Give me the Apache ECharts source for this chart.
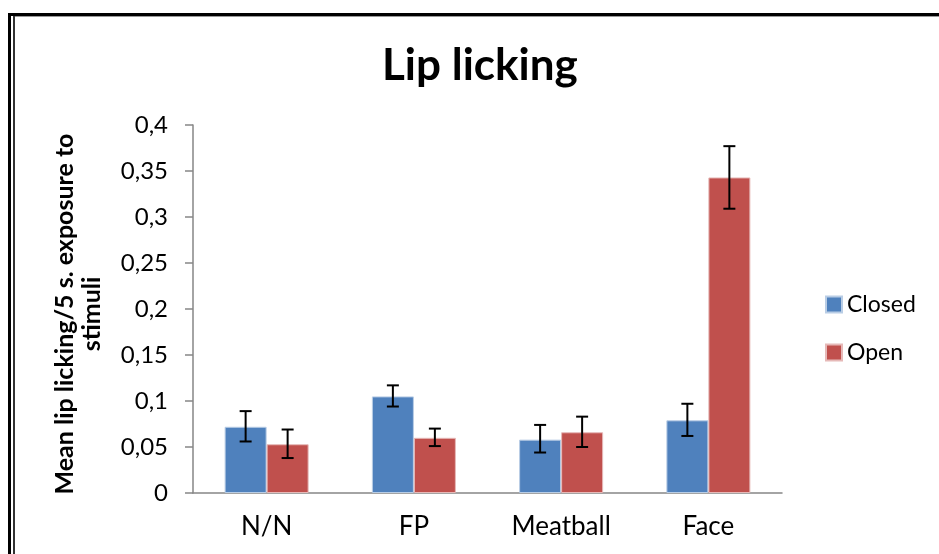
<!DOCTYPE html>
<html>
<head>
<meta charset="utf-8">
<script src="https://cdn.jsdelivr.net/npm/echarts@6/dist/echarts.min.js"></script>
<style>
html,body{margin:0;padding:0;background:#fff;}
#chart{width:939px;height:554px;}
</style>
</head>
<body>
<div id="chart"></div>
<script>
var categories = ['N/N', 'FP', 'Meatball', 'Face'];
var closedValues = [0.072, 0.105, 0.058, 0.079];
var openValues = [0.053, 0.060, 0.066, 0.343];
var closedErrLow = [0.056, 0.094, 0.044, 0.062];
var closedErrHigh = [0.089, 0.117, 0.074, 0.097];
var openErrLow = [0.038, 0.051, 0.050, 0.309];
var openErrHigh = [0.069, 0.070, 0.083, 0.377];
var yTicks = [0, 0.05, 0.1, 0.15, 0.2, 0.25, 0.3, 0.35, 0.4];

var FONT = 'Lato';
var BAR_W = 42;

function errData(lo, hi) {
  return categories.map(function (c, i) { return [i, lo[i], hi[i]]; });
}
function errRender(offset) {
  return function (params, api) {
    var x = api.value(0);
    var lo = api.coord([x, api.value(1)]);
    var hi = api.coord([x, api.value(2)]);
    var cx = lo[0] + offset;
    var cap = 6;
    var st = { stroke: '#000', lineWidth: 2 };
    return {
      type: 'group',
      children: [
        { type: 'line', shape: { x1: cx, y1: hi[1], x2: cx, y2: lo[1] }, style: st },
        { type: 'line', shape: { x1: cx - cap, y1: hi[1], x2: cx + cap, y2: hi[1] }, style: st },
        { type: 'line', shape: { x1: cx - cap, y1: lo[1], x2: cx + cap, y2: lo[1] }, style: st }
      ]
    };
  };
}

var chart = echarts.init(document.getElementById('chart'), null, { renderer: 'canvas' });
chart.setOption({
  animation: false,
  backgroundColor: '#fff',
  textStyle: { fontFamily: FONT },
  title: {
    text: 'Lip licking',
    left: 382,
    top: 44,
    padding: 0,
    textStyle: { fontFamily: FONT, fontWeight: 'bold', fontSize: 44, color: '#000' }
  },
  legend: {
    orient: 'vertical',
    left: 825,
    top: 293,
    padding: 0,
    itemWidth: 16,
    itemHeight: 16,
    itemGap: 25,
    icon: 'rect',
    textStyle: { fontFamily: FONT, fontSize: 23, color: '#000' },
    data: ['Closed', 'Open']
  },
  grid: { left: 193, right: 157, top: 125, bottom: 61 },
  xAxis: {
    type: 'category',
    data: categories,
    axisLine: { lineStyle: { color: '#868686', width: 1.5 } },
    axisTick: { show: false },
    axisLabel: { fontFamily: FONT, fontSize: 26, color: '#000', margin: 21 }
  },
  yAxis: {
    type: 'value',
    min: 0,
    max: 0.4,
    interval: 0.05,
    splitLine: { show: false },
    axisLine: { show: true, lineStyle: { color: '#868686', width: 1.5 } },
    axisTick: { show: true, length: 8, lineStyle: { color: '#868686', width: 1.5 } },
    axisLabel: {
      fontFamily: FONT, fontSize: 24, color: '#000', margin: 25,
      formatter: function (v) {
        var idx = yTicks.indexOf(Math.round(v * 100) / 100);
        var t = idx >= 0 ? yTicks[idx] : v;
        return String(t).replace('.', ',');
      }
    },
    name: 'Mean lip licking/5 s. exposure to\nstimuli',
    nameLocation: 'middle',
    nameRotate: 90,
    nameGap: 88,
    nameTextStyle: { fontFamily: FONT, fontWeight: 'bold', fontSize: 25, color: '#000', lineHeight: 27, padding: [0, 10, 0, 0] }
  },
  series: [
    {
      name: 'Closed', type: 'bar', data: closedValues, barWidth: BAR_W, barGap: '0%',
      itemStyle: { color: '#4F81BD', borderColor: '#B9CDE5', borderWidth: 1 }
    },
    {
      name: 'Open', type: 'bar', data: openValues, barWidth: BAR_W, barGap: '0%',
      itemStyle: { color: '#C0504D', borderColor: '#E6B9B8', borderWidth: 1 }
    },
    {
      type: 'custom', renderItem: errRender(-BAR_W / 2), data: errData(closedErrLow, closedErrHigh),
      encode: { x: 0, y: [1, 2] }, z: 10, silent: true
    },
    {
      type: 'custom', renderItem: errRender(BAR_W / 2), data: errData(openErrLow, openErrHigh),
      encode: { x: 0, y: [1, 2] }, z: 10, silent: true
    }
  ],
  graphic: [
    { type: 'rect', shape: { x: 8, y: 13, width: 3, height: 541 }, style: { fill: '#000' } },
    { type: 'rect', shape: { x: 8, y: 13, width: 931, height: 3 }, style: { fill: '#000' } },
    { type: 'rect', shape: { x: 13, y: 16, width: 2, height: 538 }, style: { fill: '#333' } },
    { type: 'rect', shape: { x: 15, y: 16, width: 924, height: 1 }, style: { fill: '#999' } }
  ]
});
</script>
</body>
</html>
